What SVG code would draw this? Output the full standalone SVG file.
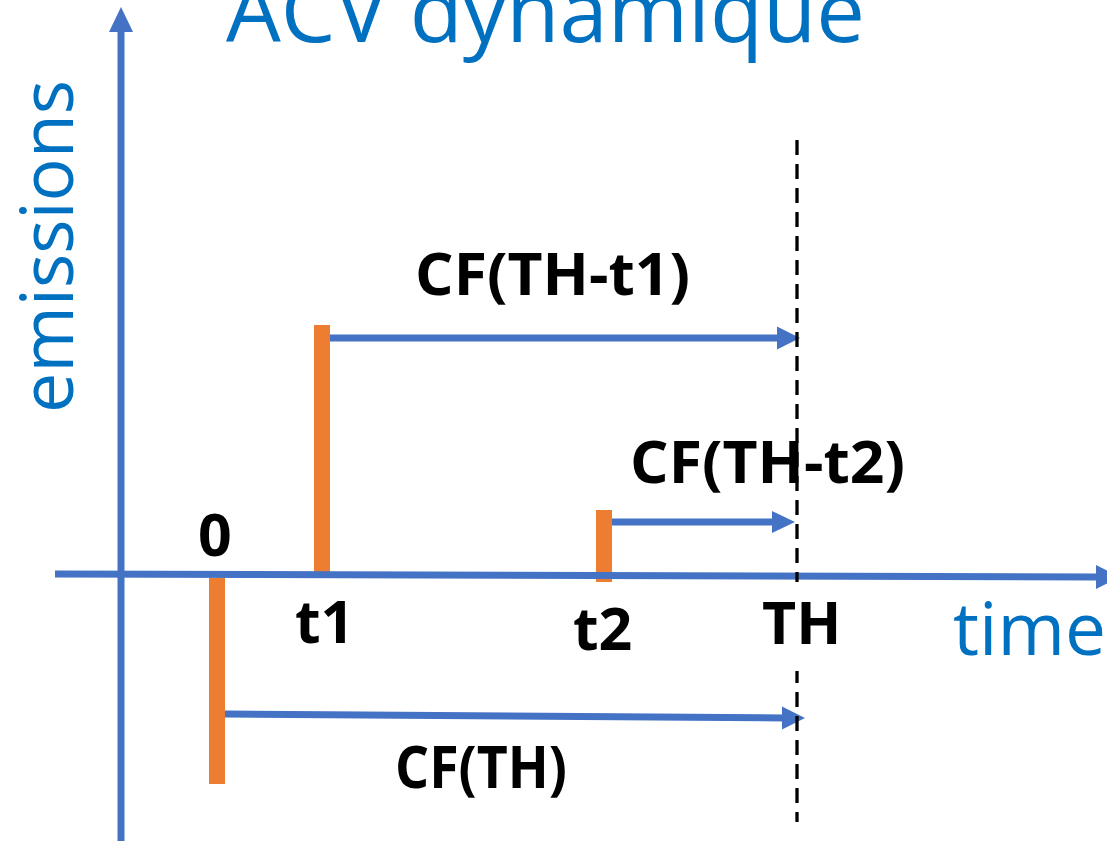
<svg xmlns="http://www.w3.org/2000/svg" width="1107" height="841" viewBox="0 0 1107 841">
<style>
.axis{stroke:#4472C4;stroke-width:7;fill:none}
.arr{stroke:#4472C4;stroke-width:7;fill:none}
.head{fill:#4472C4}
.bar{fill:#ED7D31}
.dash{stroke:#000;stroke-width:3.3;stroke-dasharray:15 9;fill:none}
.blue{font-family:"Open Sans","Liberation Sans",sans-serif;fill:#0070C0}
.lbl{font-family:"Open Sans","Liberation Sans",sans-serif;font-weight:bold;font-size:59px;fill:#000}
</style>
<rect width="1107" height="841" fill="#fff"/>
<g id="title"><text class="blue" x="226" y="42" font-size="86" textLength="639" lengthAdjust="spacingAndGlyphs">ACV dynamique</text></g>
<g id="bars">
<rect id="bar0" class="bar" x="209" y="578" width="16" height="206"/>
<rect id="bar-t1" class="bar" x="314" y="325" width="16" height="249"/>
<rect id="bar-t2" class="bar" x="596" y="510" width="16" height="72"/>
</g>
<g id="axes">
<g id="y-axis"><line class="axis" x1="121" y1="841" x2="121" y2="30"/><polygon class="head" points="121,7 109,32 133,32"/></g>
<g id="x-axis"><line class="axis" x1="55" y1="574" x2="1098" y2="577"/><polygon class="head" points="1120,577 1096,565 1096,589"/></g>
</g>
<g id="connectors">
<g id="arrow-t1"><line class="arr" x1="330" y1="338" x2="780" y2="338"/><polygon class="head" points="800,338 777,326.5 777,349.5"/></g>
<g id="arrow-t2"><line class="arr" x1="612" y1="522" x2="775" y2="522"/><polygon class="head" points="795,522 772,511 772,533"/></g>
<g id="arrow-0"><line class="arr" x1="225" y1="714" x2="785" y2="718"/><polygon class="head" points="805,718 782,706.5 782,729.5"/></g>
</g>
<g id="labels">
<text class="blue" font-size="73" transform="translate(73,413) rotate(-90)" textLength="333" lengthAdjust="spacingAndGlyphs">emissions</text>
<text class="blue" x="953" y="655" font-size="73">time</text>
<text class="lbl" x="415" y="295" textLength="275" lengthAdjust="spacingAndGlyphs">CF(TH-t1)</text>
<text class="lbl" x="630" y="483" textLength="275" lengthAdjust="spacingAndGlyphs">CF(TH-t2)</text>
<text class="lbl" x="395" y="788" textLength="172" lengthAdjust="spacingAndGlyphs">CF(TH)</text>
<text class="lbl" x="198" y="556">0</text>
<text class="lbl" x="295" y="643">t1</text>
<text class="lbl" x="573" y="650">t2</text>
</g>
<g id="horizon"><line class="dash" x1="797" y1="140" x2="797" y2="822"/></g>
<g id="th-label"><rect x="756" y="582" width="84" height="89" fill="#fff"/><text class="lbl" x="762" y="644">TH</text></g>
</svg>
